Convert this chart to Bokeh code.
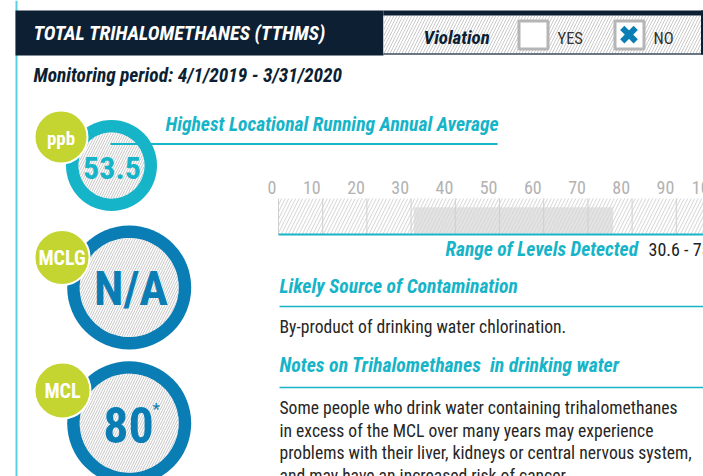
import numpy as np
from bokeh.plotting import figure
from bokeh.models import Range1d
from bokeh.core.properties import value
from bokeh.embed import file_html
from bokeh.resources import INLINE

# ---------------- data ----------------
title_text = "TOTAL TRIHALOMETHANES (TTHMS)"
period_text = "Monitoring period: 4/1/2019 - 3/31/2020"
violation_labels = ["YES", "NO"]
violation_checked = [False, True]
badge_labels = ["ppb", "MCLG", "MCL"]
badge_values = ["53.5", "N/A", "80"]
highest_lraa = 53.5
range_low = 30.6
range_high = 75.7
scale_ticks = [0, 10, 20, 30, 40, 50, 60, 70, 80, 90, 100]
scale_tick_labels = [str(t) for t in scale_ticks]
lraa_title = "Highest Locational Running Annual Average"
range_title = "Range of Levels Detected"
source_title = "Likely Source of Contamination"
source_text = "By-product of drinking water chlorination."
notes_title = "Notes on Trihalomethanes\u00a0 in drinking water"
notes_lines = [
    "Some people who drink water containing trihalomethanes",
    "in excess of the MCL over many years may experience",
    "problems with their liver, kidneys or central nervous system,",
    "and may have an increased risk of cancer.",
]

# ---------------- style ----------------
NAVY = "#0c1f33"
CYAN = "#16b4c8"
BLUE = "#0a7db5"
GREEN = "#c4d430"
LINE_CYAN = "#5ccfe0"
GRAY_LBL = "#b2b2b2"
BODY = "#262626"
HATCH = "#c4c4c4"
FONT = "Roboto Condensed"
K = 0.33  # baseline compensation (fraction of font size)

W, H = 703, 476
p = figure(width=W, height=H, x_range=Range1d(0, W), y_range=Range1d(H, 0),
           output_backend="svg", toolbar_location=None, min_border=0,
           x_axis_type=None, y_axis_type=None)
p.grid.visible = False
p.outline_line_color = None
p.background_fill_color = "white"

# level scale: value 0 at pixel 278, 4.42 px per unit
LVL0, LVLPX = 278.0, 4.42
p.extra_x_ranges = {"lvl": Range1d((0 - LVL0) / LVLPX, (W - LVL0) / LVLPX)}


def txt(x, y, s, size, color, style="normal", align="left", **kw):
    p.text(x=[x], y=[y - K * size], text=[s], text_font=value(FONT),
           text_font_size=value(f"{size}px"), text_font_style=style, text_color=color,
           text_align=align, text_baseline="alphabetic", **kw)


def disc(cx, cy, r, n=120):
    t = np.linspace(0, 2 * np.pi, n)
    return list(cx + r * np.cos(t)), list(cy + r * np.sin(t))


# left border line
p.segment(x0=[16], y0=[0], x1=[16], y1=[480], line_color=LINE_CYAN, line_width=2)

# header
p.quad(left=[15], right=[383], top=[10], bottom=[55], fill_color=NAVY, line_color=None)
p.quad(left=[383], right=[710], top=[15], bottom=[53], fill_color="white", line_color=None,
       hatch_pattern="/", hatch_color="#cacaca", hatch_scale=6, hatch_weight=1)
p.quad(left=[383], right=[710], top=[10], bottom=[15], fill_color=NAVY, line_color=None)
p.segment(x0=[383], y0=[53.5], x1=[710], y1=[53.5], line_color="#3a4a5a", line_width=1.5)
p.segment(x0=[701.5], y0=[10], x1=[701.5], y1=[54], line_color=NAVY, line_width=2)
txt(33, 39, title_text, 20, "white", "bold italic")
txt(423, 43, "Violation", 19, NAVY, "bold italic")
box_x = [533, 629]
p.rect(x=box_x, y=[34.5, 34.5], width=29, height=28, fill_color="white",
       line_color="#b5b5b5", line_width=3)
for bx, lab, chk in zip(box_x, violation_labels, violation_checked):
    txt(bx + 24, 43, lab, 16.5, "#333333")
    if chk:
        p.scatter(x=[bx - 0.5], y=[34.2], marker="x", size=19, line_color=BLUE, line_width=6)

txt(33, 81.5, period_text, 19.4, NAVY, "bold italic")

# badges (green circle + ring)
ring_cx = [111, 128.7, 128.7]
ring_cy = [165, 287, 422.7]
ring_out = [45.5, 62, 62]
ring_in = [33, 49.5, 49.5]
ring_col = [CYAN, BLUE, BLUE]
p.circle(x=ring_cx, y=ring_cy, radius=ring_out, fill_color=ring_col, line_color=None)
inner_xs, inner_ys = [], []
for cx, cy, r in zip(ring_cx, ring_cy, ring_in):
    xs, ys = disc(cx, cy, r)
    inner_xs.append(xs)
    inner_ys.append(ys)
p.patches(xs=inner_xs, ys=inner_ys, fill_color="white", line_color=None,
          hatch_pattern="/", hatch_color=HATCH, hatch_scale=5, hatch_weight=1)

# connector line to LRAA title
p.segment(x0=[110], y0=[143.5], x1=[497], y1=[143.5], line_color=CYAN, line_width=2)

g_cx = [60.5, 61.5, 62]
g_cy = [136.5, 257, 390]
g_r = [26.5, 27.5, 28]
g_size = [19, 20, 20]
p.circle(x=g_cx, y=g_cy, radius=g_r, fill_color=GREEN, line_color="white", line_width=2)
for cx, cy, lab, fs in zip(g_cx, g_cy, badge_labels, g_size):
    txt(cx, cy + 7.5, lab, fs, "white", "bold", align="center")

txt(111.5, 178, f"{highest_lraa:.1f}", 32, CYAN, "bold", align="center")
txt(130.5, 304, badge_values[1], 48, BLUE, "bold", align="center")
txt(128, 441, badge_values[2], 50, BLUE, "bold", align="center")
txt(152, 414, "*", 17, BLUE, "normal")

txt(165, 130.5, lraa_title, 19.6, CYAN, "bold italic")

# range scale
p.quad(left=[0], right=[200], top=[198], bottom=[234], x_range_name="lvl",
       fill_color="white", line_color=None,
       hatch_pattern="/", hatch_color="#d4d4d4", hatch_scale=7, hatch_weight=1)
p.quad(left=[range_low], right=[range_high], top=[206.7], bottom=[233], x_range_name="lvl",
       fill_color="#e3e3e4", line_color=None,
       hatch_pattern="/", hatch_color="#d6d6d6", hatch_scale=7, hatch_weight=1)
p.segment(x0=scale_ticks, y0=[198] * len(scale_ticks), x1=scale_ticks, y1=[234] * len(scale_ticks),
          x_range_name="lvl", line_color="#cfcfcf", line_width=1)
p.segment(x0=[0], y0=[234], x1=[200], y1=[234], x_range_name="lvl", line_color=CYAN, line_width=2)
p.text(x=scale_ticks, y=[193 - K * 18] * len(scale_ticks), text=scale_tick_labels,
       x_range_name="lvl", x_offset=-2, text_font=value(FONT), text_font_size=value("18px"),
       text_color=GRAY_LBL, text_align="right", text_baseline="alphabetic")

txt(445, 255, range_title, 19.5, CYAN, "bold italic")
txt(648, 255, f"{range_low} - {range_high}", 18, "#222222")

# source / notes
txt(279, 292, source_title, 19.6, CYAN, "bold italic")
p.segment(x0=[279], y0=[306], x1=[710], y1=[306], line_color=CYAN, line_width=1.5)
txt(279, 332, source_text, 17.6, BODY)
txt(279, 371.5, notes_title, 19.8, CYAN, "bold italic")
p.segment(x0=[279], y0=[387], x1=[710], y1=[387], line_color=CYAN, line_width=1.5)
for i, line in enumerate(notes_lines):
    txt(279, 413.5 + i * 22.5, line, 17.6, BODY)

open("out.html", "w").write(file_html(p, INLINE))
